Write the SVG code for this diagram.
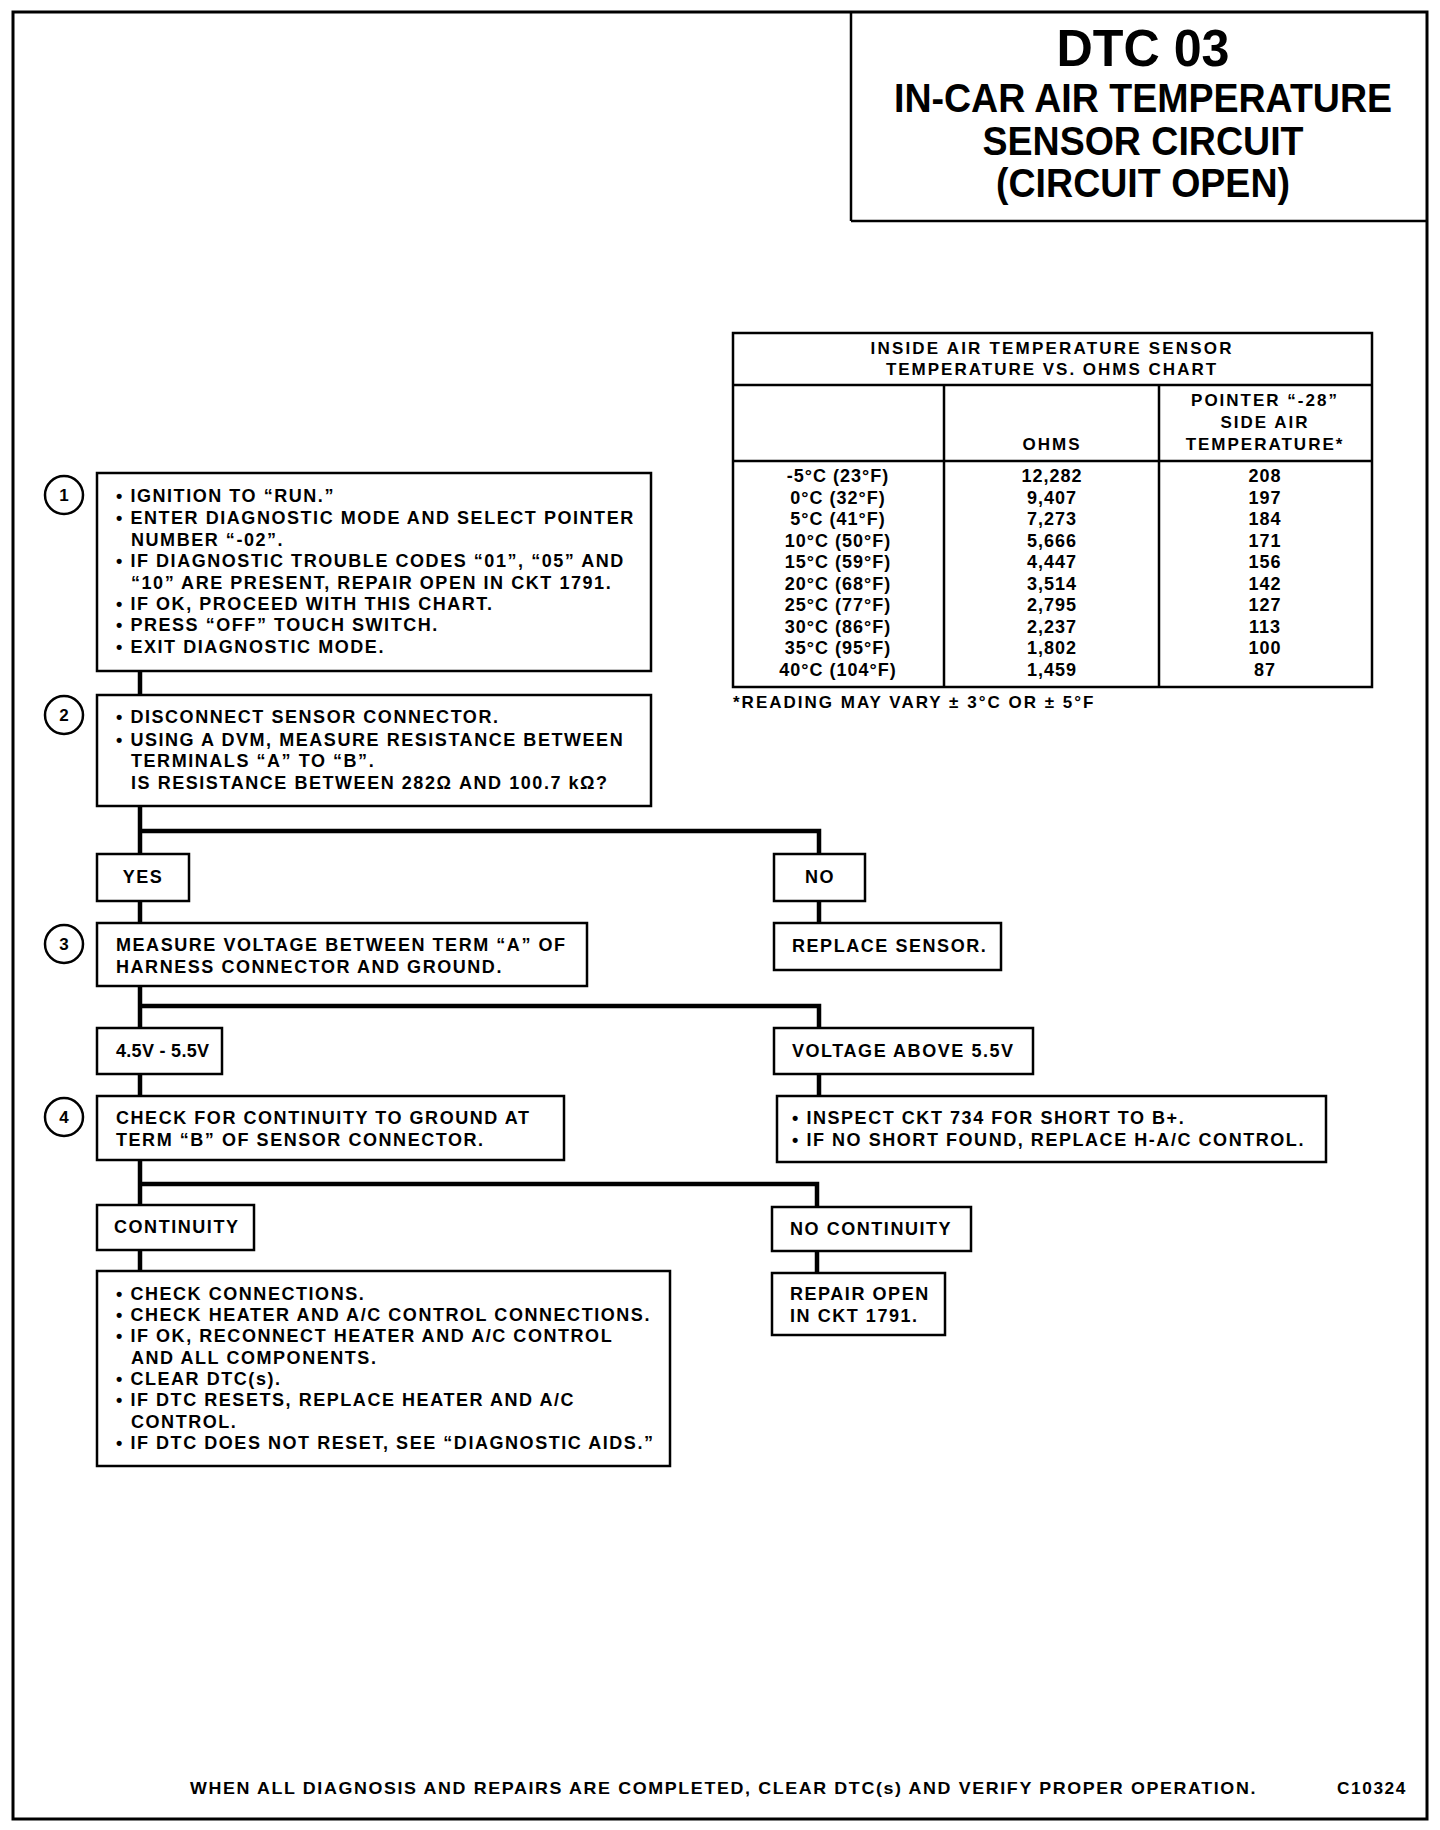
<svg xmlns="http://www.w3.org/2000/svg" width="1440" height="1830" viewBox="0 0 1440 1830">
<style>
  .frame{fill:none;stroke:#000;stroke-width:3}
  .box{fill:#fff;stroke:#000;stroke-width:2.5}
  .conn{fill:none;stroke:#000;stroke-width:4.5;stroke-linejoin:miter}
  .t{font-family:"Liberation Sans",Arial,sans-serif;font-weight:bold;font-size:18px;letter-spacing:1.55px;fill:#000}
  .tc{font-family:"Liberation Sans",Arial,sans-serif;font-weight:bold;font-size:17px;letter-spacing:2px;fill:#000;text-anchor:middle}
  .title{font-family:"Liberation Sans",Arial,sans-serif;font-weight:bold;fill:#000;text-anchor:middle}
  .num{font-family:"Liberation Sans",Arial,sans-serif;font-weight:bold;font-size:18px;letter-spacing:1px;fill:#000;text-anchor:middle}
  .cn{font-family:"Liberation Sans",Arial,sans-serif;font-weight:bold;font-size:17px;fill:#000;text-anchor:middle}
</style>
<rect x="0" y="0" width="1440" height="1830" fill="#fff"/>
<rect class="frame" x="13" y="12" width="1414" height="1807"/>

<g id="title">
  <line x1="851" y1="12" x2="851" y2="221" stroke="#000" stroke-width="2.5"/>
  <line x1="851" y1="221" x2="1427" y2="221" stroke="#000" stroke-width="2.5"/>
  <text class="title" x="1143" y="66" font-size="52" textLength="173" lengthAdjust="spacingAndGlyphs">DTC 03</text>
  <text class="title" x="1143" y="112" font-size="41" textLength="498" lengthAdjust="spacingAndGlyphs">IN-CAR AIR TEMPERATURE</text>
  <text class="title" x="1143" y="155" font-size="41" textLength="321" lengthAdjust="spacingAndGlyphs">SENSOR CIRCUIT</text>
  <text class="title" x="1143" y="197" font-size="41" textLength="294" lengthAdjust="spacingAndGlyphs">(CIRCUIT OPEN)</text>
</g>

<g id="chart">
  <rect class="box" x="733" y="333" width="639" height="354"/>
  <line x1="733" y1="385" x2="1372" y2="385" stroke="#000" stroke-width="2.5"/>
  <line x1="733" y1="461" x2="1372" y2="461" stroke="#000" stroke-width="2.5"/>
  <line x1="944" y1="385" x2="944" y2="687" stroke="#000" stroke-width="2.5"/>
  <line x1="1159" y1="385" x2="1159" y2="687" stroke="#000" stroke-width="2.5"/>
  <text class="tc" x="1052" y="354" textLength="363">INSIDE AIR TEMPERATURE SENSOR</text>
  <text class="tc" x="1052" y="375">TEMPERATURE VS. OHMS CHART</text>
  <text class="tc" x="1052" y="450">OHMS</text>
  <text class="tc" x="1265" y="406">POINTER “-28”</text>
  <text class="tc" x="1265" y="428">SIDE AIR</text>
  <text class="tc" x="1265" y="450">TEMPERATURE*</text>
  <g class="num">
    <text x="838" y="482">-5°C (23°F)</text><text x="1052" y="482">12,282</text><text x="1265" y="482">208</text>
    <text x="838" y="503.5">0°C (32°F)</text><text x="1052" y="503.5">9,407</text><text x="1265" y="503.5">197</text>
    <text x="838" y="525">5°C (41°F)</text><text x="1052" y="525">7,273</text><text x="1265" y="525">184</text>
    <text x="838" y="546.5">10°C (50°F)</text><text x="1052" y="546.5">5,666</text><text x="1265" y="546.5">171</text>
    <text x="838" y="568">15°C (59°F)</text><text x="1052" y="568">4,447</text><text x="1265" y="568">156</text>
    <text x="838" y="589.5">20°C (68°F)</text><text x="1052" y="589.5">3,514</text><text x="1265" y="589.5">142</text>
    <text x="838" y="611">25°C (77°F)</text><text x="1052" y="611">2,795</text><text x="1265" y="611">127</text>
    <text x="838" y="632.5">30°C (86°F)</text><text x="1052" y="632.5">2,237</text><text x="1265" y="632.5">113</text>
    <text x="838" y="654">35°C (95°F)</text><text x="1052" y="654">1,802</text><text x="1265" y="654">100</text>
    <text x="838" y="675.5">40°C (104°F)</text><text x="1052" y="675.5">1,459</text><text x="1265" y="675.5">87</text>
  </g>
  <text class="tc" x="733" y="708" style="text-anchor:start">*READING MAY VARY ± 3°C OR ± 5°F</text>
</g>

<g id="connectors">
  <polyline class="conn" points="140,671 140,695"/>
  <polyline class="conn" points="140,806 140,854"/>
  <polyline class="conn" points="140,831 819,831 819,854"/>
  <polyline class="conn" points="140,901 140,923"/>
  <polyline class="conn" points="819,901 819,923"/>
  <polyline class="conn" points="140,986 140,1028"/>
  <polyline class="conn" points="140,1006 819,1006 819,1028"/>
  <polyline class="conn" points="140,1074 140,1096"/>
  <polyline class="conn" points="819,1074 819,1096"/>
  <polyline class="conn" points="140,1160 140,1205"/>
  <polyline class="conn" points="140,1184 817,1184 817,1207"/>
  <polyline class="conn" points="140,1250 140,1271"/>
  <polyline class="conn" points="817,1251 817,1273"/>
</g>

<g id="step1-marker"><circle cx="64" cy="495" r="19" fill="none" stroke="#000" stroke-width="2.5"/><text class="cn" x="64" y="501">1</text></g>
<g id="step2-marker"><circle cx="64" cy="715" r="19" fill="none" stroke="#000" stroke-width="2.5"/><text class="cn" x="64" y="721">2</text></g>
<g id="step3-marker"><circle cx="64" cy="944" r="19" fill="none" stroke="#000" stroke-width="2.5"/><text class="cn" x="64" y="950">3</text></g>
<g id="step4-marker"><circle cx="64" cy="1117" r="19" fill="none" stroke="#000" stroke-width="2.5"/><text class="cn" x="64" y="1123">4</text></g>

<g id="box1">
  <rect class="box" x="97" y="473" width="554" height="198"/>
  <text class="t" x="116" y="502">• IGNITION TO “RUN.”</text>
  <text class="t" x="116" y="524">• ENTER DIAGNOSTIC MODE AND SELECT POINTER</text>
  <text class="t" x="131" y="546">NUMBER “-02”.</text>
  <text class="t" x="116" y="567">• IF DIAGNOSTIC TROUBLE CODES “01”, “05” AND</text>
  <text class="t" x="131" y="589">“10” ARE PRESENT, REPAIR OPEN IN CKT 1791.</text>
  <text class="t" x="116" y="610">• IF OK, PROCEED WITH THIS CHART.</text>
  <text class="t" x="116" y="631">• PRESS “OFF” TOUCH SWITCH.</text>
  <text class="t" x="116" y="653">• EXIT DIAGNOSTIC MODE.</text>
</g>

<g id="box2">
  <rect class="box" x="97" y="695" width="554" height="111"/>
  <text class="t" x="116" y="723">• DISCONNECT SENSOR CONNECTOR.</text>
  <text class="t" x="116" y="746">• USING A DVM, MEASURE RESISTANCE BETWEEN</text>
  <text class="t" x="131" y="767">TERMINALS “A” TO “B”.</text>
  <text class="t" x="131" y="789">IS RESISTANCE BETWEEN 282Ω AND 100.7 kΩ?</text>
</g>

<g id="yes"><rect class="box" x="97" y="854" width="92" height="47"/><text class="t" x="143" y="883" text-anchor="middle">YES</text></g>
<g id="no"><rect class="box" x="774" y="854" width="91" height="47"/><text class="t" x="820" y="883" text-anchor="middle">NO</text></g>

<g id="box3">
  <rect class="box" x="97" y="923" width="490" height="63"/>
  <text class="t" x="116" y="951">MEASURE VOLTAGE BETWEEN TERM “A” OF</text>
  <text class="t" x="116" y="973">HARNESS CONNECTOR AND GROUND.</text>
</g>
<g id="replace-sensor">
  <rect class="box" x="774" y="923" width="227" height="47"/>
  <text class="t" x="792" y="952">REPLACE SENSOR.</text>
</g>

<g id="v45"><rect class="box" x="97" y="1028" width="125" height="46"/><text class="t" x="116" y="1057" style="letter-spacing:0.3px">4.5V - 5.5V</text></g>
<g id="vabove"><rect class="box" x="774" y="1028" width="259" height="46"/><text class="t" x="792" y="1057">VOLTAGE ABOVE 5.5V</text></g>

<g id="box4">
  <rect class="box" x="97" y="1096" width="467" height="64"/>
  <text class="t" x="116" y="1124">CHECK FOR CONTINUITY TO GROUND AT</text>
  <text class="t" x="116" y="1146">TERM “B” OF SENSOR CONNECTOR.</text>
</g>
<g id="inspect">
  <rect class="box" x="777" y="1096" width="549" height="66"/>
  <text class="t" x="792" y="1124">• INSPECT CKT 734 FOR SHORT TO B+.</text>
  <text class="t" x="792" y="1146">• IF NO SHORT FOUND, REPLACE H-A/C CONTROL.</text>
</g>

<g id="continuity"><rect class="box" x="97" y="1205" width="157" height="45"/><text class="t" x="114" y="1233">CONTINUITY</text></g>
<g id="no-continuity"><rect class="box" x="772" y="1207" width="199" height="44"/><text class="t" x="790" y="1235">NO CONTINUITY</text></g>

<g id="box5">
  <rect class="box" x="97" y="1271" width="573" height="195"/>
  <text class="t" x="116" y="1300">• CHECK CONNECTIONS.</text>
  <text class="t" x="116" y="1321">• CHECK HEATER AND A/C CONTROL CONNECTIONS.</text>
  <text class="t" x="116" y="1342">• IF OK, RECONNECT HEATER AND A/C CONTROL</text>
  <text class="t" x="131" y="1364">AND ALL COMPONENTS.</text>
  <text class="t" x="116" y="1385">• CLEAR DTC(s).</text>
  <text class="t" x="116" y="1406">• IF DTC RESETS, REPLACE HEATER AND A/C</text>
  <text class="t" x="131" y="1428">CONTROL.</text>
  <text class="t" x="116" y="1449">• IF DTC DOES NOT RESET, SEE “DIAGNOSTIC AIDS.”</text>
</g>
<g id="repair-open">
  <rect class="box" x="772" y="1273" width="173" height="62"/>
  <text class="t" x="790" y="1300">REPAIR OPEN</text>
  <text class="t" x="790" y="1322">IN CKT 1791.</text>
</g>

<g id="footer">
  <text class="t" x="190" y="1794" textLength="1067" lengthAdjust="spacingAndGlyphs" style="font-size:17px">WHEN ALL DIAGNOSIS AND REPAIRS ARE COMPLETED, CLEAR DTC(s) AND VERIFY PROPER OPERATION.</text>
  <text class="t" x="1337" y="1794" textLength="70" lengthAdjust="spacingAndGlyphs" style="font-size:17px">C10324</text>
</g>
</svg>
